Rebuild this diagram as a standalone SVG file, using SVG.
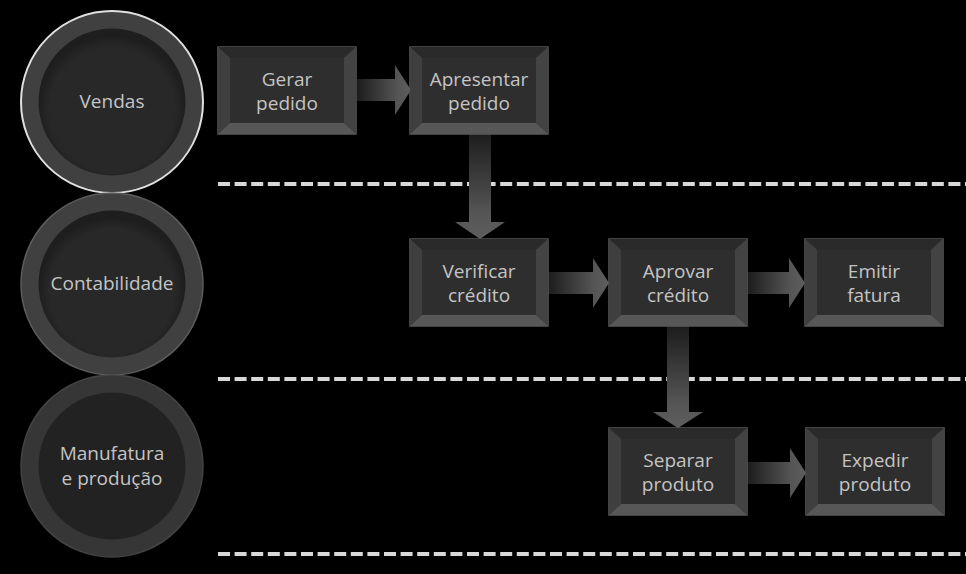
<svg xmlns="http://www.w3.org/2000/svg" width="966" height="574" viewBox="0 0 966 574">
<defs>
<linearGradient id="gh" x1="0" y1="0" x2="1" y2="0">
<stop offset="0" stop-color="#1c1c1c"/><stop offset="0.75" stop-color="#555"/><stop offset="1" stop-color="#5e5e5e"/>
</linearGradient>
<linearGradient id="gv" x1="0" y1="0" x2="0" y2="1">
<stop offset="0" stop-color="#1c1c1c"/><stop offset="0.75" stop-color="#555"/><stop offset="1" stop-color="#5e5e5e"/>
</linearGradient>
<radialGradient id="inner" cx="0.5" cy="0.55" r="0.5">
<stop offset="0.85" stop-color="#282828"/><stop offset="1" stop-color="#1e1e1e"/>
</radialGradient>
<g id="box">
<rect x="0" y="0" width="138" height="87" fill="#3c3c3c" stroke="#5a5a5a" stroke-width="1.5"/>
<polygon points="0,0 138,0 126,11 12,11" fill="#2a2a2a"/>
<polygon points="0,87 138,87 126,76 12,76" fill="#575757"/>
<polygon points="0,0 12,11 12,76 0,87" fill="#3f3f3f"/>
<polygon points="138,0 126,11 126,76 138,87" fill="#434343"/>
<rect x="12" y="11" width="114" height="65" fill="#2e2e2e"/>
</g>
</defs>
<style>
.t{font-family:"Open Sans","Noto Sans","Liberation Sans",sans-serif;font-size:19px;fill:#c4c4c4;text-anchor:middle}
.dash{stroke:#d8d8d8;stroke-width:4;stroke-dasharray:12 4.6;fill:none}
.ring{fill:#404040}
</style>
<rect width="966" height="574" fill="#000"/>
<g id="lanes">
<line class="dash" x1="218" y1="184" x2="966" y2="184"/>
<line class="dash" x1="218" y1="379" x2="966" y2="379"/>
<line class="dash" x1="218" y1="554" x2="966" y2="554"/>
</g>
<g id="lane-vendas">
<circle cx="112" cy="102" r="91" class="ring" stroke="#e0e0e0" stroke-width="2"/>
<circle cx="112" cy="102" r="73.5" fill="url(#inner)"/>
<text class="t" x="112" y="108">Vendas</text>
</g>
<g id="lane-contabilidade">
<circle cx="112" cy="284" r="91" class="ring" stroke="#5c5c5c" stroke-width="1.5"/>
<circle cx="112" cy="284" r="73.5" fill="url(#inner)"/>
<text class="t" x="112" y="290">Contabilidade</text>
</g>
<g id="lane-manufatura">
<circle cx="112" cy="466" r="91" fill="#363636" stroke="#444" stroke-width="1.5"/>
<circle cx="112" cy="466" r="73.5" fill="#222"/>
<text class="t" x="112" y="460">Manufatura</text>
<text class="t" x="112" y="485">e produção</text>
</g>
<g id="connectors">
<polygon points="357,79 395,79 395,65 411,90 395,115 395,101 357,101" fill="url(#gh)"/>
<polygon points="548,272 593,272 593,258 609,283 593,308 593,294 548,294" fill="url(#gh)"/>
<polygon points="747,272 789,272 789,258 805,283 789,308 789,294 747,294" fill="url(#gh)"/>
<polygon points="747,462 790,462 790,448 806,473 790,498 790,484 747,484" fill="url(#gh)"/>
<polygon points="469,133 491,133 491,222 505,222 480,239 455,222 469,222" fill="url(#gv)"/>
<polygon points="667,326 689,326 689,412 703,412 678,428 653,412 667,412" fill="url(#gv)"/>
</g>
<g id="n-gerar">
<use href="#box" x="218" y="47"/>
<text class="t" x="287" y="86">Gerar</text>
<text class="t" x="287" y="110">pedido</text>
</g>
<g id="n-apresentar">
<use href="#box" x="410" y="47"/>
<text class="t" x="479" y="86">Apresentar</text>
<text class="t" x="479" y="110">pedido</text>
</g>
<g id="n-verificar">
<use href="#box" x="410" y="239"/>
<text class="t" x="479" y="278">Verificar</text>
<text class="t" x="479" y="302">crédito</text>
</g>
<g id="n-aprovar">
<use href="#box" x="609" y="239"/>
<text class="t" x="678" y="278">Aprovar</text>
<text class="t" x="678" y="302">crédito</text>
</g>
<g id="n-emitir">
<use href="#box" x="805" y="239"/>
<text class="t" x="874" y="278">Emitir</text>
<text class="t" x="874" y="302">fatura</text>
</g>
<g id="n-separar">
<use href="#box" x="609" y="428"/>
<text class="t" x="678" y="467">Separar</text>
<text class="t" x="678" y="491">produto</text>
</g>
<g id="n-expedir">
<use href="#box" x="806" y="428"/>
<text class="t" x="875" y="467">Expedir</text>
<text class="t" x="875" y="491">produto</text>
</g>
</svg>
